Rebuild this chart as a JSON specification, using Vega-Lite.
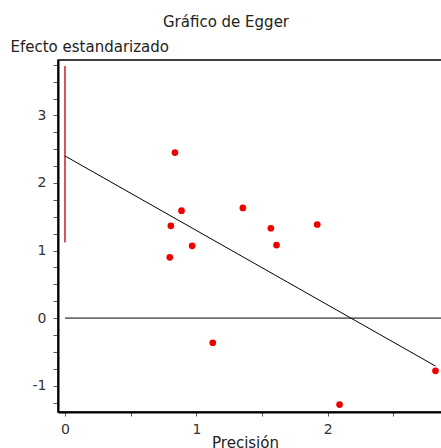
{
  "$schema": "https://vega.github.io/schema/vega-lite/v6.json",
  "autosize": "none",
  "padding": {"left": 58, "top": 60, "right": 0, "bottom": 36},
  "width": 388,
  "height": 352,
  "background": "white",
  "config": {
    "font": "DejaVu Sans",
    "view": {"stroke": "#000", "strokeWidth": 1.5},
    "axis": {
      "grid": false,
      "domainColor": "#000",
      "domainWidth": 2,
      "tickColor": "#555",
      "labelColor": "#333",
      "labelFontSize": 14,
      "titleFontSize": 15,
      "titleFontWeight": "normal",
      "titleColor": "#222",
      "labelFont": "DejaVu Sans",
      "titleFont": "DejaVu Sans",
      "labelOverlap": false
    }
  },
  "title": {
    "text": "Gráfico de Egger",
    "fontSize": 15,
    "fontWeight": "normal",
    "color": "#222",
    "font": "DejaVu Sans",
    "anchor": "middle",
    "dx": -26,
    "offset": 9
  },
  "datasets": {
    "pts": [
      {"precision": 0.837, "effect": 2.45},
      {"precision": 0.887, "effect": 1.59},
      {"precision": 0.806, "effect": 1.365},
      {"precision": 0.968, "effect": 1.07},
      {"precision": 0.798, "effect": 0.9},
      {"precision": 1.354, "effect": 1.63},
      {"precision": 1.567, "effect": 1.33},
      {"precision": 1.61, "effect": 1.08},
      {"precision": 1.92, "effect": 1.385},
      {"precision": 1.125, "effect": -0.365},
      {"precision": 2.09, "effect": -1.28},
      {"precision": 2.82, "effect": -0.78}
    ],
    "reg": [
      {"precision": 0, "effect": 2.4},
      {"precision": 2.82, "effect": -0.71}
    ],
    "ci": [{"precision": 0, "lo": 1.12, "hi": 3.73}],
    "zero": [{"x1": 0, "x2": 2.9, "y": 0}]
  },
  "layer": [
    {
      "data": {"name": "zero"},
      "mark": {"type": "rule", "color": "#000", "strokeWidth": 1},
      "encoding": {
        "x": {
          "field": "x1", "type": "quantitative",
          "scale": {"domain": [-0.053, 2.9], "nice": false, "zero": false},
          "axis": {
            "values": [0, 0.5, 1, 1.5, 2, 2.5],
            "tickCount": 20,
            "labelExpr": "datum.value % 1 === 0 ? '' + datum.value : ''",
            "title": "Precisión",
            "tickSize": 4,
            "labelPadding": 6,
            "titleX": 187,
            "titleY": 35,
            "titleBaseline": "alphabetic",
            "titleAlign": "center"
          }
        },
        "x2": {"field": "x2"},
        "y": {
          "field": "y", "type": "quantitative",
          "scale": {"domain": [-1.39, 3.82], "nice": false, "zero": false},
          "axis": {
            "values": [-1.25, -1, -0.75, -0.5, -0.25, 0, 0.25, 0.5, 0.75, 1, 1.25, 1.5, 1.75, 2, 2.25, 2.5, 2.75, 3, 3.25, 3.5, 3.75],
            "tickCount": 30,
            "labelExpr": "datum.value % 1 === 0 ? '' + datum.value : ''",
            "title": "Efecto estandarizado",
            "titleAngle": 0,
            "titleX": -48,
            "titleY": -9,
            "titleAlign": "left",
            "titleBaseline": "alphabetic",
            "tickSize": 5,
            "labelPadding": 7
          }
        }
      }
    },
    {
      "data": {"name": "ci"},
      "mark": {"type": "rule", "color": "#cc2020", "strokeWidth": 1.5},
      "encoding": {
        "x": {"field": "precision", "type": "quantitative"},
        "y": {"field": "lo", "type": "quantitative"},
        "y2": {"field": "hi"}
      }
    },
    {
      "data": {"name": "reg"},
      "mark": {"type": "line", "color": "#000", "strokeWidth": 1},
      "encoding": {
        "x": {"field": "precision", "type": "quantitative"},
        "y": {"field": "effect", "type": "quantitative"}
      }
    },
    {
      "data": {"name": "pts"},
      "mark": {"type": "point", "shape": "circle", "filled": true, "color": "#ee0000", "size": 45, "opacity": 1},
      "encoding": {
        "x": {"field": "precision", "type": "quantitative"},
        "y": {"field": "effect", "type": "quantitative"}
      }
    }
  ]
}
